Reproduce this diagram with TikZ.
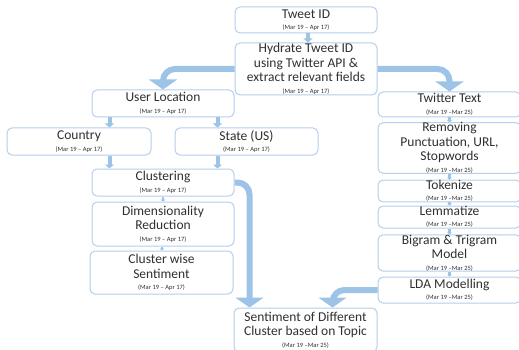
\documentclass[tikz,border=0pt]{standalone}
\usepackage{fontspec}
\setmainfont{Carlito}
\usepackage{xcolor}
\usepackage{tikz}
\usetikzlibrary{arrows.meta}

\definecolor{boxline}{RGB}{182,207,236}
\definecolor{flow}{RGB}{157,195,230}
\definecolor{ink}{RGB}{48,48,48}
\newcommand{\when}[1]{\\[-3pt]{\fontsize{6.5}{7}\selectfont(#1)}}

\begin{document}
\begin{tikzpicture}[x=1pt, y=-1pt,
        stage/.style={draw=boxline, line width=1pt, fill=white, rounded corners=5pt,
            text=ink, align=center, inner sep=0pt, font=\fontsize{13.5}{14.5}\selectfont},
        bigflow/.style={draw=flow, line width=6pt, rounded corners=12pt,
            -{Triangle[width=28pt,length=10pt]}},
        smallflow/.style={draw=flow, line width=4pt, -{Triangle[width=9pt,length=4pt]}},
        tinyflow/.style={draw=flow, line width=2.5pt, -{Triangle[width=5pt,length=2pt]}}]
            \useasboundingbox (0,0) rectangle (519,350);
            % left branch
            \node [stage, minimum width=142pt, minimum height=26pt] (tid) at (306,20) {Tweet ID\when{Mar 19 – Apr 17}};
            \node [stage, minimum width=142pt, minimum height=52pt] (hyd) at (306,69) {Hydrate Tweet ID\\using Twitter API \&\\extract relevant fields\when{Mar 19 – Apr 17}};
            \node [stage, minimum width=142pt, minimum height=27pt] (uloc) at (163,103.5) {User Location\when{Mar 19 – Apr 17}};
            \node [stage, minimum width=144pt, minimum height=27pt] (ctry) at (79,141.5) {Country\when{Mar 19 – Apr 17}};
            \node [stage, minimum width=143pt, minimum height=27pt] (state) at (246.5,141.5) {State (US)\when{Mar 19 – Apr 17}};
            \node [stage, minimum width=142pt, minimum height=27pt] (clu) at (163,182.5) {Clustering\when{Mar 19 – Apr 17}};
            \node [stage, minimum width=142pt, minimum height=44pt] (dim) at (163,224) {Dimensionality\\Reduction\when{Mar 19 – Apr 17}};
            \node [stage, minimum width=143pt, minimum height=43pt] (csent) at (161.5,272.5) {Cluster wise\\Sentiment\when{Mar 19 – Apr 17}};
            % right branch
            \node [stage, minimum width=143pt, minimum height=25pt] (ttext) at (449.5,104.5) {Twitter Text\when{Mar 19 –Mar 25}};
            \node [stage, minimum width=143pt, minimum height=50pt] (rem) at (449.5,148) {Removing\\Punctuation, URL,\\Stopwords\when{Mar 19 –Mar 25}};
            \node [stage, minimum width=143pt, minimum height=20pt] (tok) at (449.5,191) {Tokenize\when{Mar 19 –Mar 25}};
            \node [stage, minimum width=143pt, minimum height=22pt] (lem) at (449.5,217) {Lemmatize\when{Mar 19 –Mar 25}};
            \node [stage, minimum width=143pt, minimum height=36pt] (bigr) at (449.5,253) {Bigram \& Trigram\\Model\when{Mar 19 –Mar 25}};
            \node [stage, minimum width=143pt, minimum height=26pt] (lda) at (449.5,290) {LDA Modelling\when{Mar 19 –Mar 25}};
            \node [stage, minimum width=143pt, minimum height=44pt] (sent) at (305.5,330) {Sentiment of Different\\Cluster based on Topic\when{Mar 19 –Mar 25}};
            % connectors
            \draw [smallflow] ([xshift=2pt]tid.south) -- ([xshift=2pt]hyd.north);
            \draw [bigflow] (hyd.west) -| (uloc.north);
            \draw [bigflow] (hyd.east) -| (ttext.north);
            \draw [smallflow] ([xshift=18pt]uloc.south west) -- ([xshift=18pt]uloc.south west |- ctry.north);
            \draw [smallflow] ([xshift=-17pt]uloc.south east) -- ([xshift=-17pt]uloc.south east |- state.north);
            \draw [smallflow] ([xshift=18pt]clu.north west |- ctry.south) -- ([xshift=18pt]clu.north west);
            \draw [smallflow] ([xshift=-17pt]clu.north east |- state.south) -- ([xshift=-17pt]clu.north east);
            \draw [tinyflow] (clu.south) -- (dim.north);
            \draw [tinyflow] ([xshift=-1pt]dim.south) -- ([xshift=-1pt]dim.south |- csent.north);
            \draw [bigflow] (clu.east) -| ([xshift=16pt]sent.north west);
            \draw [bigflow] (lda.west) -| ([xshift=27pt]sent.north);
            \draw [tinyflow] (ttext.south) -- (rem.north);
            \draw [tinyflow] (rem.south) -- (tok.north);
            \draw [tinyflow] (tok.south) -- (lem.north);
            \draw [tinyflow] (lem.south) -- (bigr.north);
            \draw [tinyflow] (bigr.south) -- (lda.north);
\end{tikzpicture}
\end{document}
